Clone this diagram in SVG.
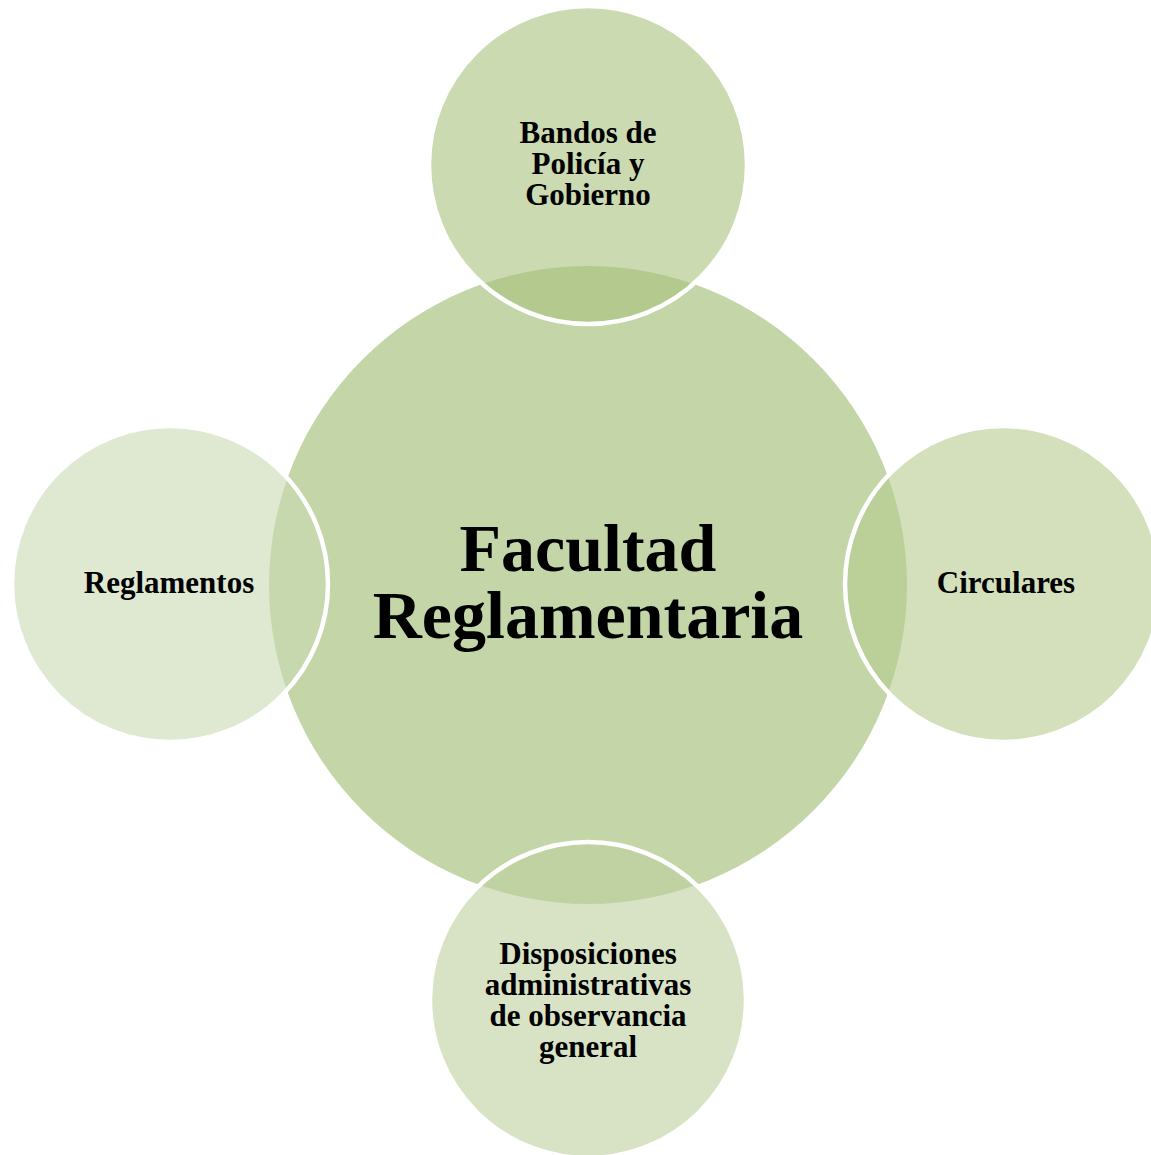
<svg xmlns="http://www.w3.org/2000/svg" width="1151" height="1155" viewBox="0 0 1151 1155">
<style>
.sat{stroke:#ffffff;stroke-width:4.5;fill-opacity:0.6}
.t{font-family:"Liberation Serif","Times New Roman",serif;font-weight:bold;fill:#000;text-anchor:middle}
.s{font-size:31px}
.c{font-size:68px}
</style>
<rect width="1151" height="1155" fill="#ffffff"/>
<g id="center">
<circle cx="588" cy="585" r="319" fill="#c4d5a8"/>
<text class="t c" x="588" y="571">Facultad</text>
<text class="t c" x="588" y="638">Reglamentaria</text>
</g>
<g id="top">
<circle class="sat" cx="588" cy="165" r="159" fill="#a8c17b"/>
<text class="t s" x="588" y="143">Bandos de</text>
<text class="t s" x="588" y="174">Policía y</text>
<text class="t s" x="588" y="205">Gobierno</text>
</g>
<g id="right">
<circle class="sat" cx="1003" cy="584" r="158" fill="#b6cb8e"/>
<text class="t s" x="1006" y="593">Circulares</text>
</g>
<g id="bottom">
<circle class="sat" cx="588" cy="1000" r="158" fill="#bed09e"/>
<text class="t s" x="588" y="964">Disposiciones</text>
<text class="t s" x="588" y="995">administrativas</text>
<text class="t s" x="588" y="1026">de observancia</text>
<text class="t s" x="588" y="1057">general</text>
</g>
<g id="left">
<circle class="sat" cx="170" cy="584" r="158" fill="#cadab4"/>
<text class="t s" x="169" y="593">Reglamentos</text>
</g>
<g id="connectors"></g>
</svg>
